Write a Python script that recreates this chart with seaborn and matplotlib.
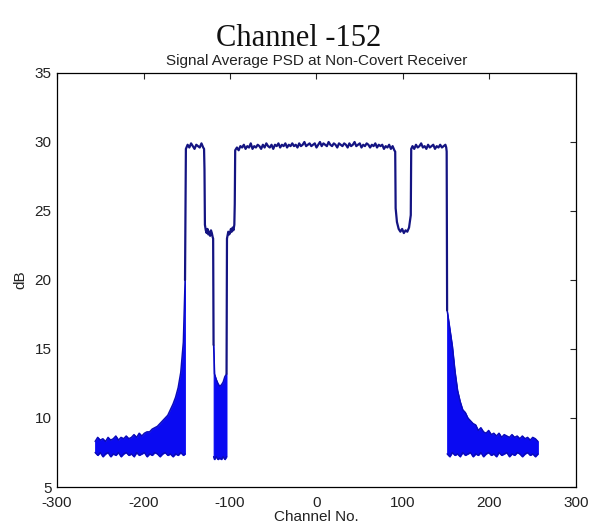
import numpy as np
import pandas as pd
import matplotlib
matplotlib.use("Agg")
import matplotlib.pyplot as plt
import seaborn as sns

# ---------------- data ----------------
# left out-of-band floor (dense noisy band) : channel, upper envelope, lower envelope
left_ch = [-256, -253, -250, -247, -244, -241, -238, -235, -232, -229, -226, -223,
           -220, -217, -214, -211, -208, -205, -202, -199, -196, -193, -190, -187,
           -184, -181, -178, -175, -172, -169, -166, -163, -160, -157, -154, -152]
left_up = [8.3, 8.6, 8.4, 8.5, 8.3, 8.6, 8.4, 8.5, 8.7, 8.4, 8.6, 8.5,
           8.7, 8.5, 8.6, 8.8, 8.6, 8.9, 8.7, 8.9, 9.0, 9.0, 9.2, 9.3,
           9.4, 9.6, 9.8, 10.0, 10.2, 10.6, 11.0, 11.5, 12.2, 13.3, 15.5, 20.0]
left_lo = [7.5, 7.3, 7.5, 7.2, 7.4, 7.5, 7.2, 7.4, 7.3, 7.5, 7.2, 7.4,
           7.5, 7.3, 7.4, 7.2, 7.5, 7.3, 7.4, 7.5, 7.2, 7.4, 7.3, 7.5,
           7.4, 7.2, 7.4, 7.5, 7.3, 7.4, 7.2, 7.4, 7.3, 7.5, 7.3, 7.4]

# notch band between the two 23.5 dB shelves
gap_ch = [-119, -118, -116, -114, -112, -110, -108, -106, -104]
gap_up = [15.3, 13.2, 12.8, 12.5, 12.3, 12.4, 12.6, 13.0, 13.2]
gap_lo = [7.2, 7.0, 7.2, 7.0, 7.1, 7.0, 7.2, 7.0, 7.2]

# right out-of-band floor
right_ch = [151, 154, 157, 160, 163, 166, 169, 172, 175, 178, 181, 184,
            187, 190, 193, 196, 199, 202, 205, 208, 211, 214, 217, 220,
            223, 226, 229, 232, 235, 238, 241, 244, 247, 250, 253, 256]
right_up = [17.8, 16.5, 15.2, 13.4, 12.0, 11.2, 10.6, 10.4, 10.0, 9.8, 9.6, 9.5,
            9.1, 9.3, 9.0, 8.9, 9.1, 8.8, 8.9, 8.7, 8.9, 8.6, 8.8, 8.7,
            8.6, 8.8, 8.6, 8.7, 8.5, 8.7, 8.5, 8.6, 8.4, 8.6, 8.5, 8.3]
right_lo = [7.4, 7.2, 7.5, 7.3, 7.4, 7.2, 7.5, 7.3, 7.4, 7.5, 7.2, 7.4,
            7.3, 7.5, 7.2, 7.4, 7.5, 7.3, 7.4, 7.2, 7.5, 7.3, 7.4, 7.5,
            7.2, 7.4, 7.3, 7.5, 7.4, 7.2, 7.4, 7.5, 7.3, 7.4, 7.2, 7.4]

# in-band trace, segment A: from the left skirt to the notch
traceA_ch = [-152, -151, -149, -147, -145, -143, -141, -139, -137, -135, -133, -131, -130,
             -129.5, -129, -128, -127, -126, -125, -124, -123, -122, -121, -120, -119.5, -119]
traceA_db = [20.0, 29.5, 29.8, 29.6, 29.9, 29.7, 29.5, 29.8, 29.7, 29.6, 29.9, 29.6, 29.5,
             28.0, 24.0, 23.6, 23.4, 23.7, 23.3, 23.5, 23.2, 23.6, 23.4, 23.1, 23.0, 15.3]

# in-band trace, segment B: from the notch to the right skirt
traceB_ch = [-104, -103.5, -102, -101, -100, -99, -98, -97, -96, -95, -94.5, -94,
             -92, -90, -88, -86, -84, -82, -80, -78, -76, -74, -72, -70, -68, -66,
             -64, -62, -60, -58, -56, -54, -52, -50, -48, -46, -44, -42, -40, -38,
             -36, -34, -32, -30, -28, -26, -24, -22, -20, -18, -16, -14, -12, -10,
             -8, -6, -4, -2, 0, 2, 4, 6, 8, 10, 12, 14, 16, 18, 20, 22, 24, 26, 28,
             30, 32, 34, 36, 38, 40, 42, 44, 46, 48, 50, 52, 54, 56, 58, 60, 62, 64,
             66, 68, 70, 72, 74, 76, 78, 80, 82, 84, 86, 88, 90,
             91, 91.5, 93, 95, 97, 99, 101, 103, 105, 107, 109, 109.5,
             111, 113, 115, 117, 119, 121, 123, 125, 127, 129, 131, 133, 135, 137,
             139, 141, 143, 145, 147, 149, 150, 150.5, 151]
traceB_db = [13.2, 23.0, 23.5, 23.3, 23.4, 23.7, 23.5, 23.8, 23.6, 24.0, 25.5, 29.4,
             29.6, 29.4, 29.7, 29.6, 29.8, 29.5, 29.7, 29.6, 29.9, 29.5, 29.7, 29.6, 29.8, 29.7,
             29.5, 29.8, 29.6, 29.9, 29.7, 29.6, 29.8, 29.5, 29.8, 29.7, 29.9, 29.6, 29.8, 29.7,
             29.9, 29.6, 29.8, 29.7, 29.9, 29.7, 29.8, 29.6, 29.9, 29.7, 29.8, 30.0, 29.7, 29.8,
             29.9, 29.7, 29.8, 29.9, 29.6, 29.8, 30.0, 29.7, 29.9, 29.8, 29.7, 30.0, 29.8, 29.7,
             29.9, 29.8, 29.6, 29.9, 29.8, 29.7, 29.9, 29.8, 29.6, 29.9, 29.7, 29.8, 30.0, 29.7,
             29.8, 29.9, 29.6, 29.8, 29.7, 29.9, 29.8, 29.6, 29.8, 29.7, 29.9, 29.6, 29.8, 29.7,
             29.8, 29.5, 29.7, 29.6, 29.8, 29.5, 29.7, 29.4,
             29.3, 25.2, 24.2, 23.7, 23.5, 23.7, 23.4, 23.6, 23.5, 23.8, 24.7, 29.5,
             29.7, 29.5, 29.8, 29.6, 29.7, 29.9, 29.6, 29.7, 29.5, 29.8, 29.6, 29.7, 29.8, 29.5,
             29.7, 29.6, 29.8, 29.6, 29.7, 29.8, 29.6, 29.3, 17.8]

x_ticks = [-300, -200, -100, 0, 100, 200, 300]
y_ticks = [5, 10, 15, 20, 25, 30, 35]

# ---------------- figure ----------------
sns.set_style("white")
plt.rcParams["font.family"] = ["Liberation Sans", "DejaVu Sans"]

fig = plt.figure(figsize=(5.97, 5.27), dpi=100)
ax = fig.add_axes([0.0955, 0.0759, 0.8693, 0.7856])

fill_c = "#0a0af2"
edge_c = "#0b0bb8"
line_c = "#141482"

for ch, up, lo in [(left_ch, left_up, left_lo), (gap_ch, gap_up, gap_lo),
                   (right_ch, right_up, right_lo)]:
    ax.fill_between(ch, lo, up, facecolor=fill_c, edgecolor=fill_c, lw=0.6, zorder=2)
    for env in (up, lo):
        sns.lineplot(x=ch, y=env, ax=ax, color=edge_c, lw=1.0, sort=False,
                     estimator=None, zorder=3)

df = pd.concat([
    pd.DataFrame({"ch": traceA_ch, "db": traceA_db, "seg": "A"}),
    pd.DataFrame({"ch": traceB_ch, "db": traceB_db, "seg": "B"}),
], ignore_index=True)
sns.lineplot(data=df, x="ch", y="db", units="seg", ax=ax, color=line_c, lw=1.6,
             sort=False, estimator=None, zorder=4)

ax.set_xlim(-300, 300)
ax.set_ylim(5, 35)
ax.set_xticks(x_ticks)
ax.set_yticks(y_ticks)
ax.set_xticklabels([str(t) for t in x_ticks])
ax.set_yticklabels([str(t) for t in y_ticks])
ax.tick_params(direction="in", length=4, width=0.8, top=True, right=True,
               labelsize=11, labelcolor="#222222")
ax.tick_params(axis="x", pad=6.5)
ax.tick_params(axis="y", pad=4)
for s in ax.spines.values():
    s.set_visible(True)
    s.set_color("black")
    s.set_linewidth(0.9)

ax.set_xlabel("Channel No.", fontsize=11, color="#222222")
ax.set_ylabel("dB", fontsize=11, color="#222222")
ax.xaxis.set_label_coords(0.5, -0.056)
ax.yaxis.set_label_coords(-0.058, 0.5)

ax.set_title("Signal Average PSD at Non-Covert Receiver", fontsize=11,
             color="#222222", pad=5.5)
fig.text(0.5, 0.926, "Channel -152", ha="center", va="center", fontsize=22,
         family=["Liberation Serif", "DejaVu Serif"], color="#111111")

fig.savefig("out.png", dpi=100)
